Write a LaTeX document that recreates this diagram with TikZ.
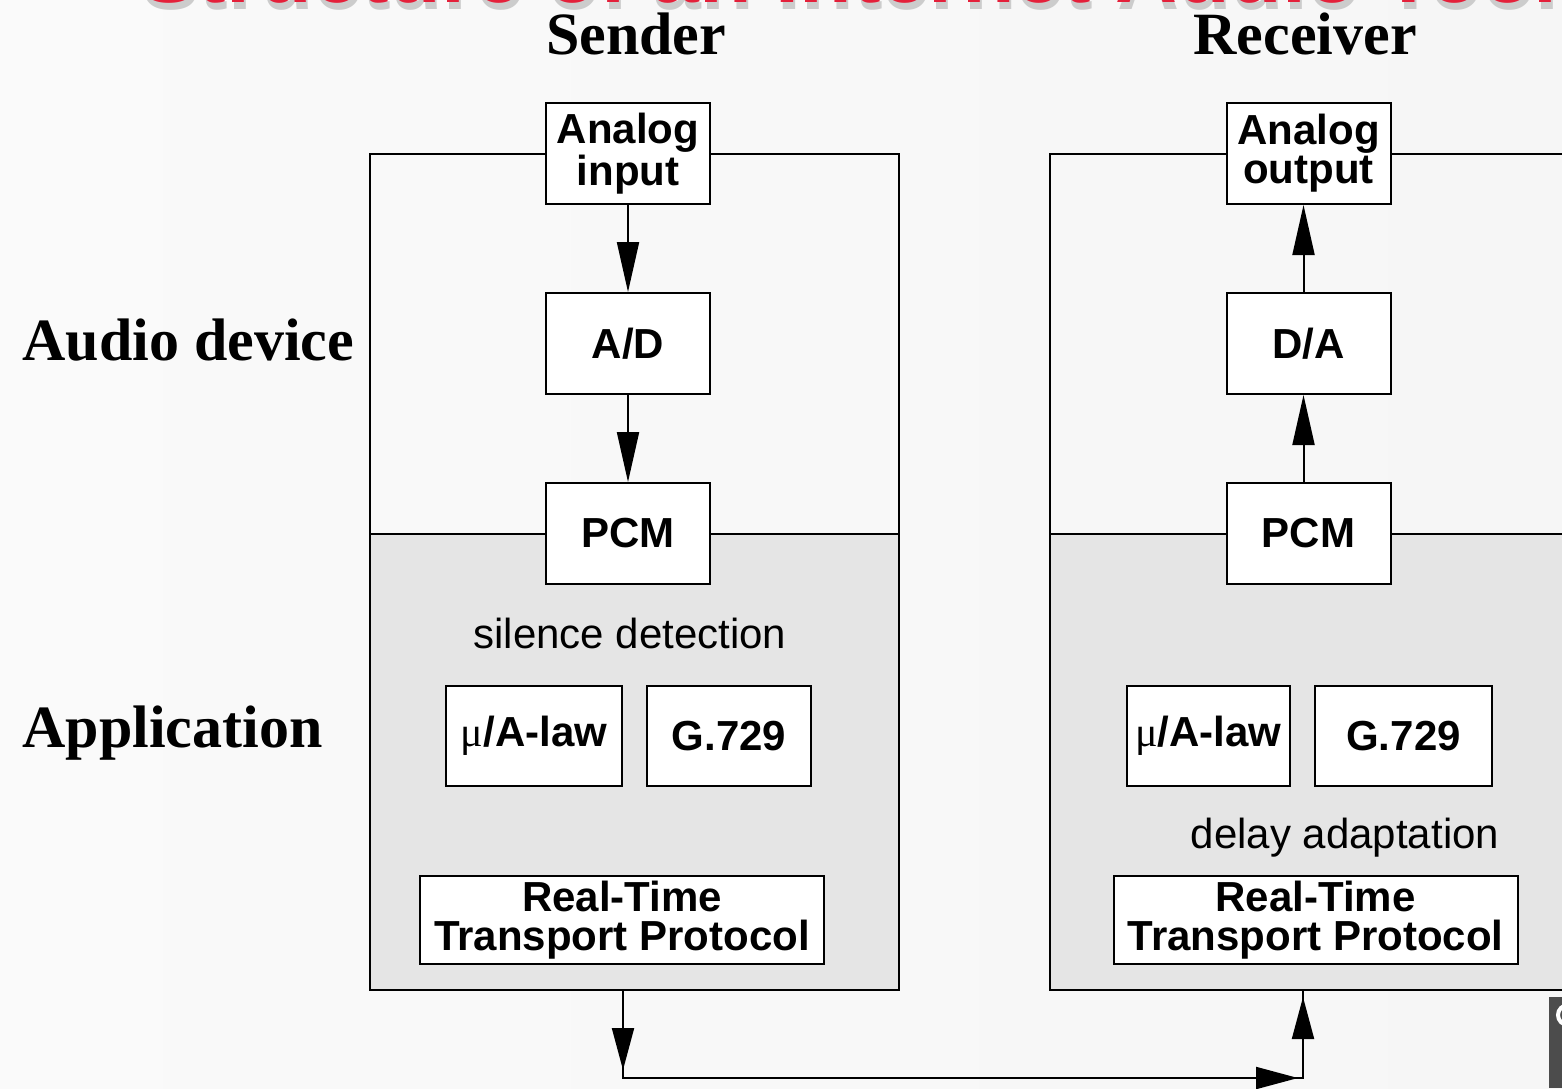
\documentclass[tikz,border=0pt]{standalone}
\usepackage{fontspec}
\setmainfont{Liberation Serif}
\setsansfont{Liberation Sans}
\usetikzlibrary{arrows.meta}
\definecolor{titlered}{RGB}{228,32,58}
\definecolor{appfill}{RGB}{229,229,229}

\begin{document}
\begin{tikzpicture}[x=0.5pt,y=-0.5pt,
    blk/.style={draw,fill=white,line width=1pt,inner sep=0pt,align=center,
      minimum width=82pt,minimum height=50.5pt,
      font=\sffamily\bfseries\fontsize{21}{19.5}\selectfont},
    lbl/.style={inner sep=0pt,font=\bfseries\fontsize{30}{32}\selectfont},
    note/.style={inner sep=0pt,font=\sffamily\fontsize{21}{24}\selectfont},
    flow/.style={line width=1pt,-{Triangle[length=25pt,width=11pt]}},
    flowb/.style={line width=1pt,-{Triangle[length=21pt,width=11pt]}}]
  \path[use as bounding box,clip] (0,0) rectangle (1562,1088);
  \shade[left color=gray!4,middle color=white,right color=gray!7] (0,0) rectangle (1562,1088);
  % title, cut off at the top
  \node[anchor=base west,inner sep=0pt,text=gray!40,font=\sffamily\bfseries\fontsize{43}{50}\selectfont] (tshadow) at (142,9) {Structure of an Internet Audio Tool};
  \node[anchor=base west,inner sep=0pt,text=titlered,font=\sffamily\bfseries\fontsize{43}{50}\selectfont] (title) at (140,2) {Structure of an Internet Audio Tool};
  % frames
  \fill[appfill] (370,534) rectangle (899,990);
  \draw[line width=1pt] (370,154) rectangle (899,990);
  \draw[line width=1pt] (370,534) -- (899,534);
  \fill[appfill] (1050,534) rectangle (1570,990);
  \draw[line width=1pt] (1570,154) -- (1050,154) -- (1050,990) -- (1570,990);
  \draw[line width=1pt] (1050,534) -- (1570,534);
  % column and row labels
  \node[lbl] (snd) at (636,34) {Sender};
  \node[lbl] (rcv) at (1305,34) {Receiver};
  \node[lbl,anchor=west] (adev) at (22,340) {Audio device};
  \node[lbl,anchor=west] (appl) at (22,733) {Application};
  % sender
  \node[blk] (ain) at (628,153.5) {Analog\\input};
  \node[blk] (ad) at (628,343.5) {A/D};
  \node[blk] (spcm) at (628,533.5) {PCM};
  \node[note] (sil) at (630,633) {silence detection};
  \node[blk,minimum width=88pt,minimum height=50pt] (smu) at (534,736) {{\rmfamily\mdseries μ}/A-law};
  \node[blk,minimum height=50pt] (sg) at (729,736) {G.729};
  \node[blk,minimum width=202pt,minimum height=44pt] (srtp) at (622,920) {Real-Time\\Transport Protocol};
  \draw[flow] (ain) -- (ad);
  \draw[flow] (ad) -- (spcm);
  % receiver
  \node[blk] (aout) at (1308.5,153.5) {Analog\\output};
  \node[blk] (da) at (1308.5,343.5) {D/A};
  \node[blk] (rpcm) at (1308.5,533.5) {PCM};
  \node[blk,minimum width=81.5pt,minimum height=50pt] (rmu) at (1208.5,736) {{\rmfamily\mdseries μ}/A-law};
  \node[blk,minimum width=88.5pt,minimum height=50pt] (rg) at (1403.5,736) {G.729};
  \node[note] (dly) at (1345,838) {delay adaptation};
  \node[blk,minimum width=202pt,minimum height=44pt] (rrtp) at (1315.5,920) {Real-Time\\Transport Protocol};
  \draw[flow] ([xshift=-2.5pt]da.north) -- ([xshift=-2.5pt]aout.south);
  \draw[flow] ([xshift=-2.5pt]rpcm.north) -- ([xshift=-2.5pt]da.south);
  % network path
  \coordinate (sbot) at (623,990);
  \coordinate (sl) at (623,1078);
  \coordinate (rl) at (1303,1078);
  \coordinate (rbot) at (1303,990);
  \draw[line width=1pt] (sbot) -- (sl) -- (rl) -- (rbot);
  \draw[flowb] (sbot) -- ([yshift=4pt]sl);
  \draw[flowb] (sl) -- ([xshift=-2.5pt]rl);
  \draw[flowb] (rl) -- ([yshift=-3.5pt]rbot);
  % logo corner
  \fill[gray!60!black] (1549,997) rectangle (1562,1088);
  \draw[white,line width=2pt] (1568,1015) circle (10);
\end{tikzpicture}
\end{document}
